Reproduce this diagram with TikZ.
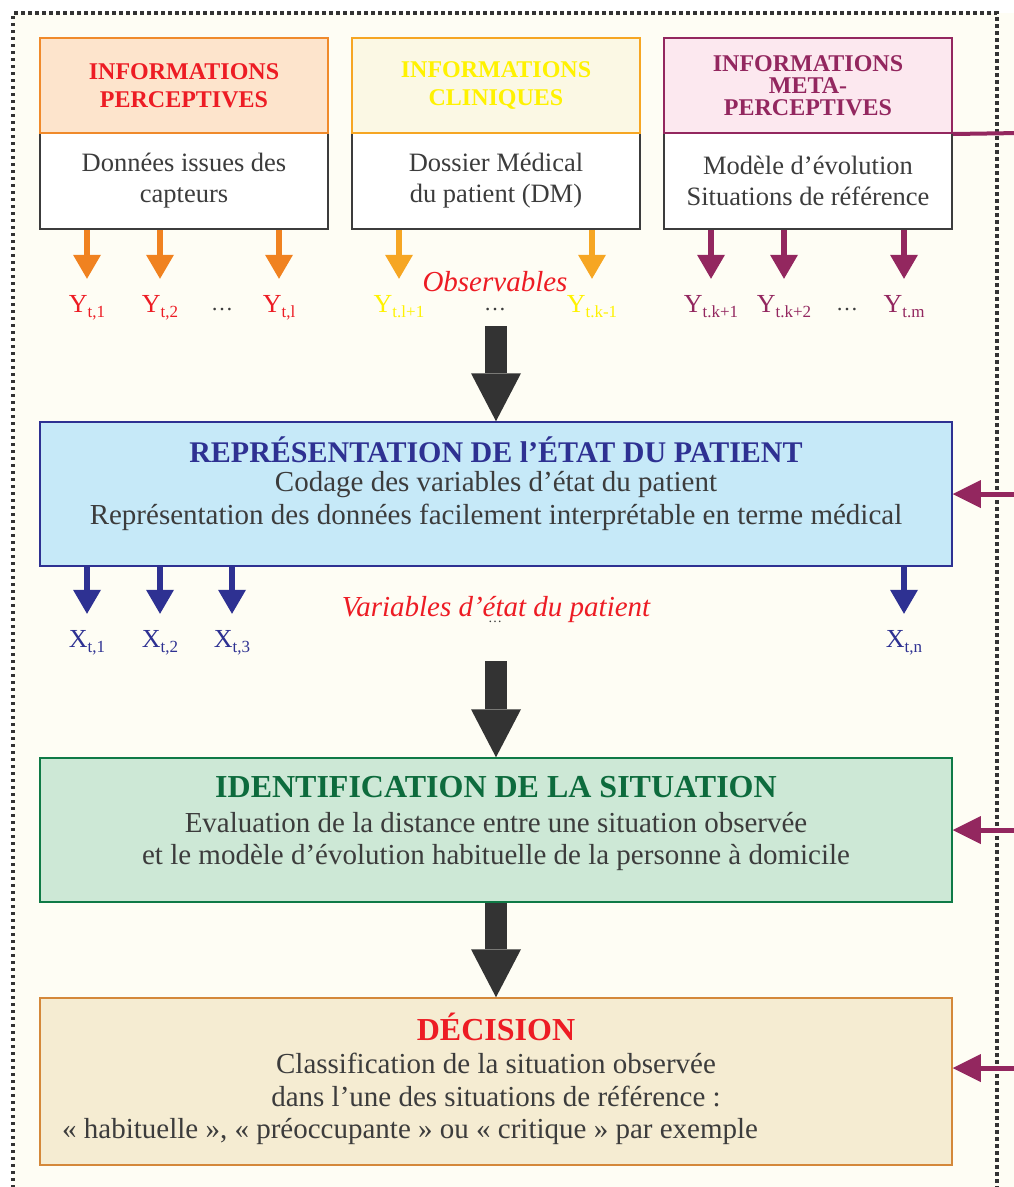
\documentclass[tikz,border=0pt]{standalone}
\usepackage{fontspec}
\setmainfont{Liberation Serif}
\usetikzlibrary{arrows.meta}
\definecolor{bgcream}{HTML}{FEFDF4}
\definecolor{percfill}{HTML}{FDE4CC}
\definecolor{percline}{HTML}{F08A2B}
\definecolor{percarrow}{HTML}{F08220}
\definecolor{clinfill}{HTML}{FBF8E4}
\definecolor{clinline}{HTML}{F6A623}
\definecolor{clintext}{HTML}{FFF200}
\definecolor{metafill}{HTML}{FCE8EF}
\definecolor{metaline}{HTML}{93275F}
\definecolor{bodygray}{HTML}{3C3C3C}
\definecolor{repfill}{HTML}{C6E9F8}
\definecolor{repline}{HTML}{2E3192}
\definecolor{identfill}{HTML}{CDE8D6}
\definecolor{identline}{HTML}{0F7A46}
\definecolor{identtext}{HTML}{0D6B3D}
\definecolor{decfill}{HTML}{F5ECD2}
\definecolor{decline}{HTML}{D4883A}
\definecolor{redtxt}{HTML}{ED1C24}
\definecolor{bigarrow}{HTML}{333333}
\tikzset{
  hdr/.style 2 args={draw=#1, fill=#2, line width=2pt, minimum width=288pt, minimum height=95pt,
    inner sep=0pt, align=center, font=\bfseries\fontsize{24}{28}\selectfont},
  infobody/.style={draw=bodygray, fill=white, line width=2pt, minimum width=288pt, minimum height=96pt,
    inner sep=0pt, align=center, text=bodygray, font=\fontsize{26.5}{31}\selectfont},
  bigbox/.style 2 args={draw=#1, fill=#2, line width=1.5pt, minimum width=912pt, inner sep=0pt},
  bodytxt/.style={align=center, text=bodygray, inner sep=0pt, font=\fontsize{29}{33}\selectfont},
  obslab/.style={text=redtxt, inner sep=0pt, font=\itshape\fontsize{29}{29}\selectfont},
  ylab/.style={text=#1, anchor=base, inner sep=0pt, font=\fontsize{26}{26}\selectfont},
  dotlab/.style={text=bodygray, inner sep=0pt, font=\fontsize{22}{22}\selectfont},
  small arrow/.style={draw=#1, line width=6pt, shorten >=16pt,
    -{Triangle[width=28pt,length=24pt,line width=0pt]}},
  big arrow/.style={draw=bigarrow, line width=22pt, -{Triangle[width=50pt,length=48pt,line width=0pt]}},
  side arrow/.style={draw=metaline, line width=5pt, -{Triangle[width=28pt,length=28pt,line width=0pt]}},
}
\newcommand\sub[1]{\raisebox{-0.45ex}{\fontsize{17}{17}\selectfont #1}}

\begin{document}
\begin{tikzpicture}[x=1pt, y=-1pt]

  \clip (0,0) rectangle (1014,1187);
  \useasboundingbox (0,0) rectangle (1014,1187);

  %% background and dotted frame
  \fill[bgcream] (13,13) rectangle (1014,1187);
  \draw[line width=3.5pt, dash pattern=on 3.5pt off 3.5pt, color=bigarrow]
    (13,1195) -- (13,13) -- (997,13) -- (997,1195);

  %% the three sources of information
  \node[infobody] (percB) at (184,181) {Données issues des\\capteurs};
  \node[hdr={percline}{percfill}, text=redtxt] (percH) at (184,85.5) {INFORMATIONS\\PERCEPTIVES};
  \node[infobody] (clinB) at (496,181) {Dossier Médical\\du patient (DM)};
  \node[hdr={clinline}{clinfill}, text=clintext] (clinH) at (496,85.5) {INFORMATIONS\\CLINIQUES};
  \node[infobody] (metaB) at (808,181) {Modèle d’évolution\\Situations de référence};
  \node[hdr={metaline}{metafill}, text=metaline, font=\bfseries\fontsize{24}{22}\selectfont]
    (metaH) at (808,85.5) {INFORMATIONS\\META-\\PERCEPTIVES};

  %% observables
  \node[obslab] (obs) at (495,282) {Observables};
  \foreach \n/\x/\s in {y1/87/{t,1}, y2/160/{t,2}, y3/279/{t,l}} {
    \node[ylab=redtxt] (\n) at (\x,312) {Y\sub{\s}};
    \draw[small arrow=percarrow] (percB.south -| \n) -- (\n.north);
  }
  \foreach \n/\x/\s in {y4/399/{t.l+1}, y5/592/{t.k-1}} {
    \node[ylab=clintext] (\n) at (\x,312) {Y\sub{\s}};
    \draw[small arrow=clinline] (clinB.south -| \n) -- (\n.north);
  }
  \foreach \n/\x/\s in {y6/711/{t.k+1}, y7/784/{t.k+2}, y8/904/{t.m}} {
    \node[ylab=metaline] (\n) at (\x,312) {Y\sub{\s}};
    \draw[small arrow=metaline] (metaB.south -| \n) -- (\n.north);
  }
  \node[dotlab] (dotsA) at (222,310) {\dots};
  \node[dotlab] (dotsB) at (495,310) {\dots};
  \node[dotlab] (dotsC) at (847,310) {\dots};

  %% representation of the patient state
  \node[bigbox={repline}{repfill}, minimum height=144pt] (rep) at (496,494) {};
  \node[text=repline, inner sep=0pt, font=\bfseries\fontsize{30}{30}\selectfont] (repT) at (496,450)
    {REPRÉSENTATION DE l’ÉTAT DU PATIENT};
  \node[bodytxt] (repL) at (496,500.5)
    {Codage des variables d’état du patient\\Représentation des données facilement interprétable en terme médical};

  %% state variables
  \node[obslab] (var) at (496,610) {Variables d’état du patient};
  \node[dotlab, font=\fontsize{14}{14}\selectfont] (dotsX) at (495,622) {\dots};
  \foreach \n/\x/\s in {x1/87/{t,1}, x2/160/{t,2}, x3/232/{t,3}, x4/904/{t,n}} {
    \node[ylab=repline] (\n) at (\x,647) {X\sub{\s}};
    \draw[small arrow=repline] (rep.south -| \n) -- (\n.north);
  }

  %% identification of the situation
  \node[bigbox={identline}{identfill}, minimum height=144pt] (ident) at (496,830) {};
  \node[text=identtext, inner sep=0pt, font=\bfseries\fontsize{32}{32}\selectfont] (identT) at (496,787)
    {IDENTIFICATION DE LA SITUATION};
  \node[bodytxt, font=\fontsize{29}{32}\selectfont] (identL) at (496,841)
    {Evaluation de la distance entre une situation observée\\et le modèle d’évolution habituelle de la personne à domicile};

  %% decision
  \node[bigbox={decline}{decfill}, minimum height=167pt] (dec) at (496,1081.5) {};
  \node[text=redtxt, inner sep=0pt, font=\bfseries\fontsize{32}{32}\selectfont] (decT) at (496,1027) {DÉCISION};
  \node[bodytxt] (decL) at (496,1079.5)
    {Classification de la situation observée\\dans l’une des situations de référence :};
  \node[bodytxt, anchor=west] (decX) at (62,1131)
    {« habituelle », « préoccupante » ou « critique » par exemple};

  %% main flow
  \draw[big arrow] ([yshift=95pt]rep.north) -- (rep.north);
  \draw[big arrow] ([yshift=96pt]ident.north) -- (ident.north);
  \draw[big arrow] (ident.south) -- (dec.north);

  %% feedback from the meta-perceptive information
  \coordinate (edgeM) at (1020,133);
  \coordinate (edgeR) at (1020,494);
  \coordinate (edgeI) at (1020,830);
  \coordinate (edgeD) at (1020,1068);
  \draw[metaline, line width=4pt] (metaH.south east) -- (edgeM);
  \draw[side arrow] (edgeR) -- (rep.east);
  \draw[side arrow] (edgeI) -- (ident.east);
  \draw[side arrow] (edgeD) -- (dec.east |- edgeD);

\end{tikzpicture}
\end{document}
